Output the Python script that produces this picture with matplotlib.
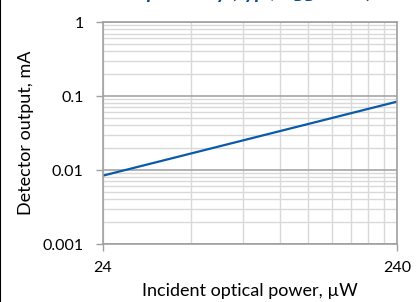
import matplotlib
matplotlib.use("Agg")
import matplotlib.pyplot as plt
from matplotlib.lines import Line2D
from matplotlib.ticker import FixedLocator, NullFormatter

# data
power_uW = [24, 240]
output_mA = [0.0084, 0.084]
x_ticks = [24, 240]
x_minor = [48, 72, 96, 120, 144, 168, 192, 216]
y_ticks = [0.001, 0.01, 0.1, 1]
y_labels = ["0.001", "0.01", "0.1", "1"]

plt.rcParams['font.family'] = ['Lato', 'DejaVu Sans']

fig = plt.figure(figsize=(4.17, 3.02), dpi=100)
ax = fig.add_axes([0.247, 0.192, 0.705, 0.735])

ax.plot(power_uW, output_mA, color='#0b5aa8', lw=1.6, solid_capstyle='butt')

ax.set_xscale('log')
ax.set_yscale('log')
ax.set_xlim(24, 240)
ax.set_ylim(0.001, 1)

ax.xaxis.set_major_locator(FixedLocator(x_ticks))
ax.xaxis.set_minor_locator(FixedLocator(x_minor))
ax.set_xticklabels([str(v) for v in x_ticks])
ax.xaxis.set_minor_formatter(NullFormatter())
ax.yaxis.set_major_locator(FixedLocator(y_ticks))
ax.set_yticklabels(y_labels)
ax.yaxis.set_minor_locator(FixedLocator(
    [m * d for d in (0.001, 0.01, 0.1) for m in range(2, 10)]))
ax.yaxis.set_minor_formatter(NullFormatter())

ax.grid(True, which='minor', color='#d9d9d9', lw=1.0)
ax.grid(True, which='major', axis='x', color='#d9d9d9', lw=1.0)
ax.grid(True, which='major', axis='y', color='#a6a6a6', lw=1.2)
ax.set_axisbelow(True)

for sp in ax.spines.values():
    sp.set_color('#a0a0a0')
    sp.set_linewidth(1.2)

ax.tick_params(which='major', length=5, width=1.0, color='#a0a0a0',
               labelsize=11.5, labelcolor='black')
ax.tick_params(axis='y', which='major', pad=9)
ax.tick_params(axis='x', which='major', pad=7)
ax.tick_params(which='minor', length=0)

ax.set_xlabel('Incident optical power, µW', fontsize=13, labelpad=6)
ax.set_ylabel('Detector output, mA', fontsize=13, labelpad=6)

# title clipped at the top edge of the image
fig.text(0.585, 1.005, r'Responsivity (typ., V$_{\mathregular{DD}}$ = 5 V)',
         ha='center', va='baseline', fontsize=15, fontweight='bold',
         style='italic', color='#0e4c92')

# black border at the left edge
fig.add_artist(Line2D([0.001, 0.001], [0, 1], transform=fig.transFigure,
                      color='black', lw=1.5))

fig.savefig('out.png', dpi=100)
